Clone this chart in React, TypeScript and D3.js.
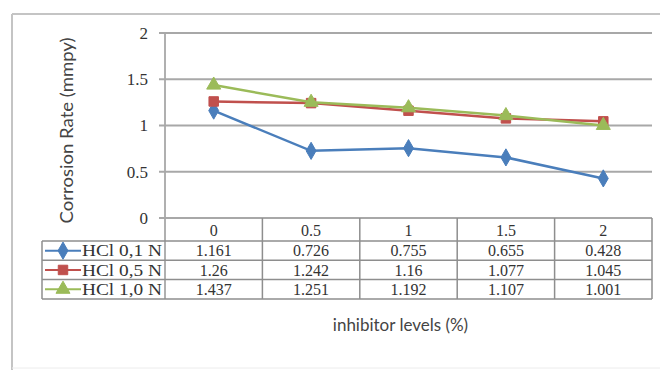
import React from "react";
import * as d3 from "d3";

const categories = ["0", "0.5", "1", "1.5", "2"];
const seriesNames = ["HCl 0,1 N", "HCl 0,5 N", "HCl 1,0 N"];
const hcl01 = [1.161, 0.726, 0.755, 0.655, 0.428];
const hcl05 = [1.26, 1.242, 1.16, 1.077, 1.045];
const hcl10 = [1.437, 1.251, 1.192, 1.107, 1.001];
const tableLabels01 = ["1.161", "0.726", "0.755", "0.655", "0.428"];
const tableLabels05 = ["1.26", "1.242", "1.16", "1.077", "1.045"];
const tableLabels10 = ["1.437", "1.251", "1.192", "1.107", "1.001"];
const yTicks = [0, 0.5, 1, 1.5, 2];
const colors = ["#4a7ebb", "#c0504d", "#9bbb59"];
const markers = ["diamond", "square", "triangle"];

const W = 660;
const H = 370;
const plotLeft = 165;
const plotRight = 652;
const plotTop = 33;
const plotBottom = 218;
const tableLeft = 42;
const headerBottom = 241;
const rowH = 19.3;

function Marker({ type, x, y, color }: { type: string; x: number; y: number; color: string }) {
  const sym =
    type === "diamond" ? d3.symbolDiamond : type === "square" ? d3.symbolSquare : d3.symbolTriangle;
  const size = type === "diamond" ? 85 : type === "square" ? 90 : 85;
  const path = d3.symbol(sym, size)() as string;
  return <path d={path} transform={`translate(${x},${y})`} fill={color} stroke={color} strokeWidth={1} />;
}

export default function App() {
  const x = d3.scaleBand<string>().domain(categories).range([plotLeft, plotRight]);
  const y = d3.scaleLinear().domain([0, 2]).range([plotBottom, plotTop]);
  const cx = (c: string) => (x(c) as number) + x.bandwidth() / 2;
  const data = [hcl01, hcl05, hcl10];
  const labels = [tableLabels01, tableLabels05, tableLabels10];
  const line = d3
    .line<number>()
    .x((_, i) => cx(categories[i]))
    .y((d) => y(d));
  const gridColor = "#a8a8a8";
  const tableColor = "#8e8e8e";
  const serif = "'Liberation Serif', 'DejaVu Serif', serif";
  const sans = "Lato, 'Liberation Sans', sans-serif";
  const tableBottom = headerBottom + rowH * 3;

  return (
    <svg width={W} height={H} style={{ position: "absolute", left: 0, top: 0, background: "#fff" }}>
      <rect x={0} y={0} width={W} height={H} fill="#fff" />
      {/* outer border */}
      <line x1={12} y1={14} x2={W} y2={14} stroke="#c4c4c4" strokeWidth={2} />
      <line x1={12} y1={14} x2={12} y2={H} stroke="#c4c4c4" strokeWidth={2} />
      <line x1={12} y1={368} x2={W} y2={368} stroke="#ececec" strokeWidth={1} />

      {/* gridlines */}
      {yTicks.map((t) => (
        <line key={t} x1={plotLeft - 6} x2={plotRight} y1={y(t)} y2={y(t)} stroke={gridColor} strokeWidth={t === 0 ? 2 : 1.8} />
      ))}
      {/* y axis */}
      <line x1={plotLeft} x2={plotLeft} y1={plotTop} y2={tableBottom} stroke={gridColor} strokeWidth={1.8} />
      {yTicks.map((t) => (
        <text key={"l" + t} x={plotLeft - 17} y={y(t)} dy="0.35em" textAnchor="end" fontFamily={serif} fontSize={17} fill="#333">
          {t}
        </text>
      ))}
      <text
        transform={`translate(73,${(plotTop + plotBottom) / 2 + 5}) rotate(-90)`}
        textAnchor="middle"
        fontFamily={sans}
        fontSize={17}
        textLength={186}
        lengthAdjust="spacingAndGlyphs"
        fill="#444"
      >
        Corrosion Rate (mmpy)
      </text>

      {/* table */}
      {categories.map((c) => (
        <text key={"h" + c} x={cx(c)} y={(plotBottom + headerBottom) / 2 + 1} dy="0.35em" textAnchor="middle" fontFamily={serif} fontSize={16} fill="#333">
          {c}
        </text>
      ))}
      {categories.map((c) => (
        <line key={"v" + c} x1={(x(c) as number) + x.bandwidth()} x2={(x(c) as number) + x.bandwidth()} y1={plotBottom} y2={tableBottom} stroke={tableColor} strokeWidth={1.5} />
      ))}
      <line x1={tableLeft} x2={tableLeft} y1={headerBottom} y2={tableBottom} stroke={tableColor} strokeWidth={1.5} />
      {[0, 1, 2, 3].map((r) => (
        <line key={"r" + r} x1={tableLeft} x2={plotRight} y1={headerBottom + r * rowH} y2={headerBottom + r * rowH} stroke={tableColor} strokeWidth={1.5} />
      ))}
      {seriesNames.map((s, r) => {
        const ry = headerBottom + r * rowH + rowH / 2;
        return (
          <g key={s}>
            <line x1={45} x2={81} y1={ry} y2={ry} stroke={colors[r]} strokeWidth={2} />
            <Marker type={markers[r]} x={63} y={ry} color={colors[r]} />
            <text x={82} y={ry} dy="0.35em" fontFamily={serif} fontSize={16} textLength={80} lengthAdjust="spacingAndGlyphs" fill="#333">
              {s}
            </text>
            {labels[r].map((v, i) => (
              <text key={i} x={cx(categories[i])} y={ry} dy="0.35em" textAnchor="middle" fontFamily={serif} fontSize={16} fill="#333">
                {v}
              </text>
            ))}
          </g>
        );
      })}

      {/* series */}
      {data.map((d, si) => (
        <g key={si}>
          <path d={line(d) as string} fill="none" stroke={colors[si]} strokeWidth={2.5} />
          {d.map((v, i) => (
            <Marker key={i} type={markers[si]} x={cx(categories[i])} y={y(v)} color={colors[si]} />
          ))}
        </g>
      ))}

      <text x={(plotLeft + plotRight) / 2 - 8} y={325} dy="0.35em" textAnchor="middle" fontFamily={sans} fontSize={17} fill="#444">
        inhibitor levels (%)
      </text>
    </svg>
  );
}
